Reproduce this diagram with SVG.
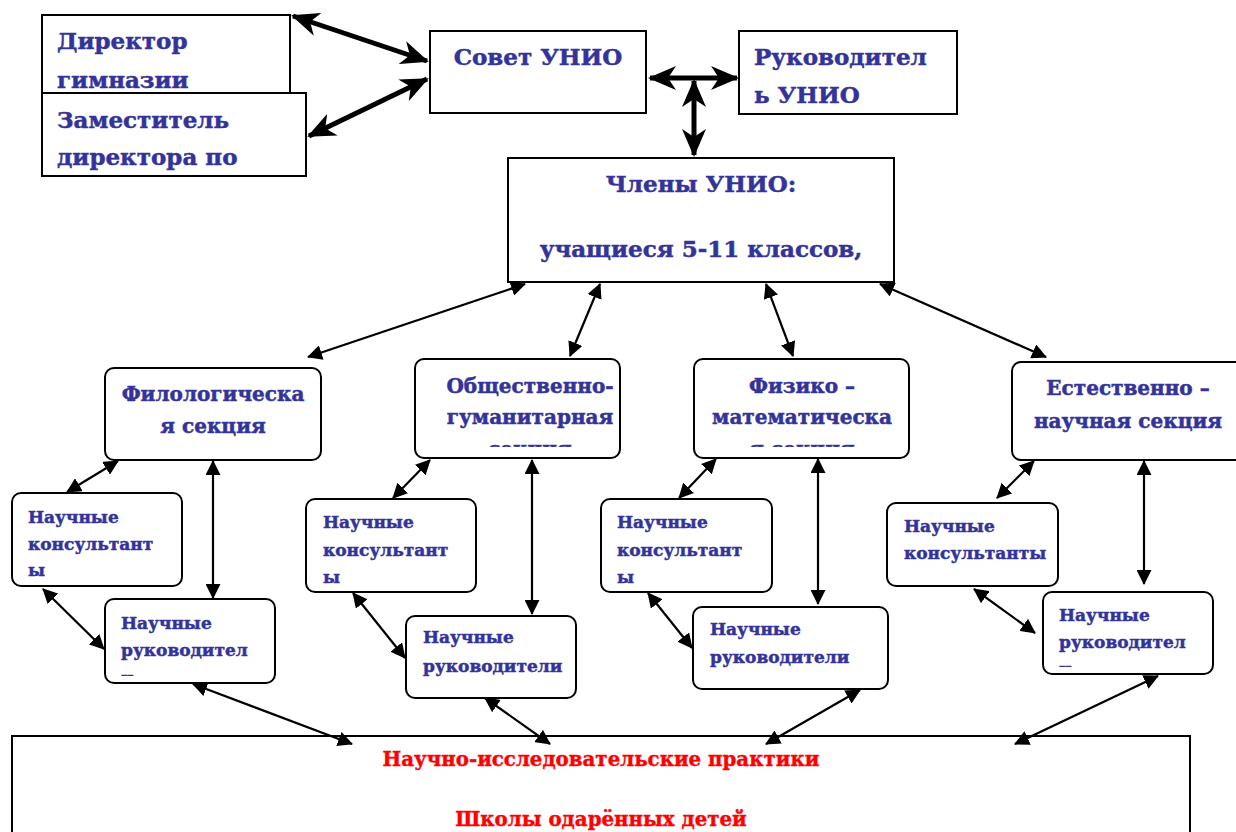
<svg xmlns="http://www.w3.org/2000/svg" width="1236" height="832" viewBox="0 0 1236 832">
<style>
.box{fill:#fff;stroke:#000;stroke-width:2}
.t{font-family:"DejaVu Serif","Liberation Serif",serif;font-weight:bold;fill:#333399;stroke:#333399;stroke-width:0.5}
.big{font-size:23px}
.sec{font-size:20px}
.sm{font-size:17px}
.red{font-family:"DejaVu Serif","Liberation Serif",serif;font-weight:bold;fill:#ff0000;stroke:#ff0000;stroke-width:0.4;font-size:19.8px}
.thick{stroke:#000;stroke-width:5;fill:none;marker-start:url(#hb);marker-end:url(#hb)}
.thin{stroke:#000;stroke-width:2.2;fill:none;marker-start:url(#ha);marker-end:url(#ha)}
</style>
<defs>
<marker id="ha" markerUnits="userSpaceOnUse" markerWidth="15" markerHeight="15" refX="14" refY="7.5" orient="auto-start-reverse" viewBox="0 0 15 15">
<path d="M0,0 L15,7.5 L0,15 Z" fill="#000"/>
</marker>
<marker id="hb" markerUnits="userSpaceOnUse" markerWidth="28" markerHeight="24" refX="26" refY="12" orient="auto-start-reverse" viewBox="0 0 28 24">
<path d="M0,0 L28,12 L0,24 L8,12 Z" fill="#000"/>
</marker>
<clipPath id="cObs"><rect x="415" y="360" width="205" height="87"/></clipPath>
<clipPath id="cFil"><rect x="105" y="368" width="216" height="87"/></clipPath>
<clipPath id="cFiz"><rect x="694" y="360" width="215" height="87"/></clipPath>
<clipPath id="cNR1"><rect x="106" y="600" width="168" height="76"/></clipPath>
<clipPath id="cNR4"><rect x="1043" y="593" width="169" height="74"/></clipPath>
</defs>

<g id="director">
<rect class="box" x="42" y="15" width="248" height="78"/>
<text class="t big" x="57" y="49">Директор</text>
<text class="t big" x="57" y="88">гимназии</text>
</g>
<g id="deputy">
<rect class="box" x="42" y="93" width="264" height="83"/>
<text class="t big" x="57" y="128">Заместитель</text>
<text class="t big" x="57" y="165">директора по</text>
</g>
<g id="council">
<rect class="box" x="430" y="31" width="216" height="82"/>
<text class="t big" x="538" y="65" text-anchor="middle">Совет УНИО</text>
</g>
<g id="head">
<rect class="box" x="739" y="31" width="218" height="83"/>
<text class="t big" x="754" y="65">Руководител</text>
<text class="t big" x="754" y="103">ь УНИО</text>
</g>
<g id="members">
<rect class="box" x="508" y="158" width="386" height="124"/>
<text class="t big" x="701" y="192" text-anchor="middle">Члены УНИО:</text>
<text class="t big" x="701" y="257" text-anchor="middle">учащиеся 5-11 классов,</text>
</g>

<g id="sec-phil">
<rect class="box" x="105" y="368" width="216" height="92" rx="9"/>
<g clip-path="url(#cFil)">
<text class="t sec" x="213" y="401" text-anchor="middle">Филологическа</text>
<text class="t sec" x="213" y="433" text-anchor="middle">я секция</text>
</g>
</g>
<g id="sec-soc">
<rect class="box" x="415" y="359" width="205" height="99" rx="9"/>
<g clip-path="url(#cObs)">
<text class="t sec" x="530" y="393" text-anchor="middle">Общественно-</text>
<text class="t sec" x="530" y="424" text-anchor="middle">гуманитарная</text>
<text class="t sec" x="530" y="456" text-anchor="middle">секция</text>
</g>
</g>
<g id="sec-phys">
<rect class="box" x="694" y="359" width="215" height="99" rx="9"/>
<g clip-path="url(#cFiz)">
<text class="t sec" x="802" y="393" text-anchor="middle">Физико –</text>
<text class="t sec" x="802" y="424" text-anchor="middle">математическа</text>
<text class="t sec" x="802" y="456" text-anchor="middle">я секция</text>
</g>
</g>
<g id="sec-nat">
<rect class="box" x="1012" y="362" width="236" height="98" rx="9"/>
<text class="t sec" x="1128" y="395" text-anchor="middle">Естественно –</text>
<text class="t sec" x="1128" y="428" text-anchor="middle">научная секция</text>
</g>

<g id="cons1">
<rect class="box" x="12" y="493" width="170" height="93" rx="9"/>
<text class="t sm" x="28" y="523">Научные</text>
<text class="t sm" x="28" y="550">консультант</text>
<text class="t sm" x="28" y="576">ы</text>
</g>
<g id="lead1">
<rect class="box" x="105" y="599" width="170" height="84" rx="9"/>
<text class="t sm" x="121" y="629">Научные</text>
<text class="t sm" x="121" y="656">руководител</text>
<text class="t sm" x="121" y="684" clip-path="url(#cNR1)">и</text>
</g>
<g id="cons2">
<rect class="box" x="306" y="499" width="170" height="93" rx="9"/>
<text class="t sm" x="323" y="528">Научные</text>
<text class="t sm" x="323" y="556">консультант</text>
<text class="t sm" x="323" y="583">ы</text>
</g>
<g id="lead2">
<rect class="box" x="406" y="616" width="170" height="82" rx="9"/>
<text class="t sm" x="423" y="643">Научные</text>
<text class="t sm" x="423" y="672">руководители</text>
</g>
<g id="cons3">
<rect class="box" x="601" y="499" width="171" height="93" rx="9"/>
<text class="t sm" x="617" y="528">Научные</text>
<text class="t sm" x="617" y="556">консультант</text>
<text class="t sm" x="617" y="583">ы</text>
</g>
<g id="lead3">
<rect class="box" x="693" y="607" width="195" height="82" rx="9"/>
<text class="t sm" x="710" y="635">Научные</text>
<text class="t sm" x="710" y="663">руководители</text>
</g>
<g id="cons4">
<rect class="box" x="887" y="503" width="171" height="83" rx="9"/>
<text class="t sm" x="904" y="532">Научные</text>
<text class="t sm" x="904" y="559">консультанты</text>
</g>
<g id="lead4">
<rect class="box" x="1043" y="592" width="170" height="82" rx="9"/>
<text class="t sm" x="1059" y="621">Научные</text>
<text class="t sm" x="1059" y="648">руководител</text>
<text class="t sm" x="1059" y="675" clip-path="url(#cNR4)">и</text>
</g>

<g id="practices">
<rect class="box" x="12" y="736" width="1178" height="110"/>
<text class="red" x="601" y="766" text-anchor="middle">Научно-исследовательские практики</text>
<text class="red" x="601" y="826" text-anchor="middle">Школы одарённых детей</text>
</g>

<g id="connectors">
<line class="thick" x1="293" y1="16" x2="427" y2="61"/>
<line class="thick" x1="309" y1="136" x2="427" y2="79"/>
<line class="thick" x1="650" y1="78" x2="737" y2="78"/>
<line class="thick" x1="694" y1="81" x2="694" y2="155"/>
<line class="thin" x1="525" y1="284" x2="308" y2="357"/>
<line class="thin" x1="600" y1="284" x2="570" y2="356"/>
<line class="thin" x1="766" y1="284" x2="793" y2="356"/>
<line class="thin" x1="880" y1="284" x2="1046" y2="357"/>
<line class="thin" x1="118" y1="461" x2="67" y2="492"/>
<line class="thin" x1="213" y1="461" x2="213" y2="598"/>
<line class="thin" x1="43" y1="589" x2="104" y2="649"/>
<line class="thin" x1="430" y1="460" x2="393" y2="498"/>
<line class="thin" x1="532" y1="460" x2="532" y2="614"/>
<line class="thin" x1="353" y1="593" x2="405" y2="658"/>
<line class="thin" x1="716" y1="459" x2="679" y2="498"/>
<line class="thin" x1="818" y1="459" x2="818" y2="604"/>
<line class="thin" x1="648" y1="593" x2="692" y2="648"/>
<line class="thin" x1="1034" y1="461" x2="997" y2="498"/>
<line class="thin" x1="1144" y1="461" x2="1144" y2="584"/>
<line class="thin" x1="974" y1="589" x2="1035" y2="633"/>
<line class="thin" x1="193" y1="684" x2="352" y2="744"/>
<line class="thin" x1="485" y1="698" x2="550" y2="744"/>
<line class="thin" x1="860" y1="690" x2="766" y2="744"/>
<line class="thin" x1="1158" y1="676" x2="1015" y2="744"/>
</g>
</svg>
